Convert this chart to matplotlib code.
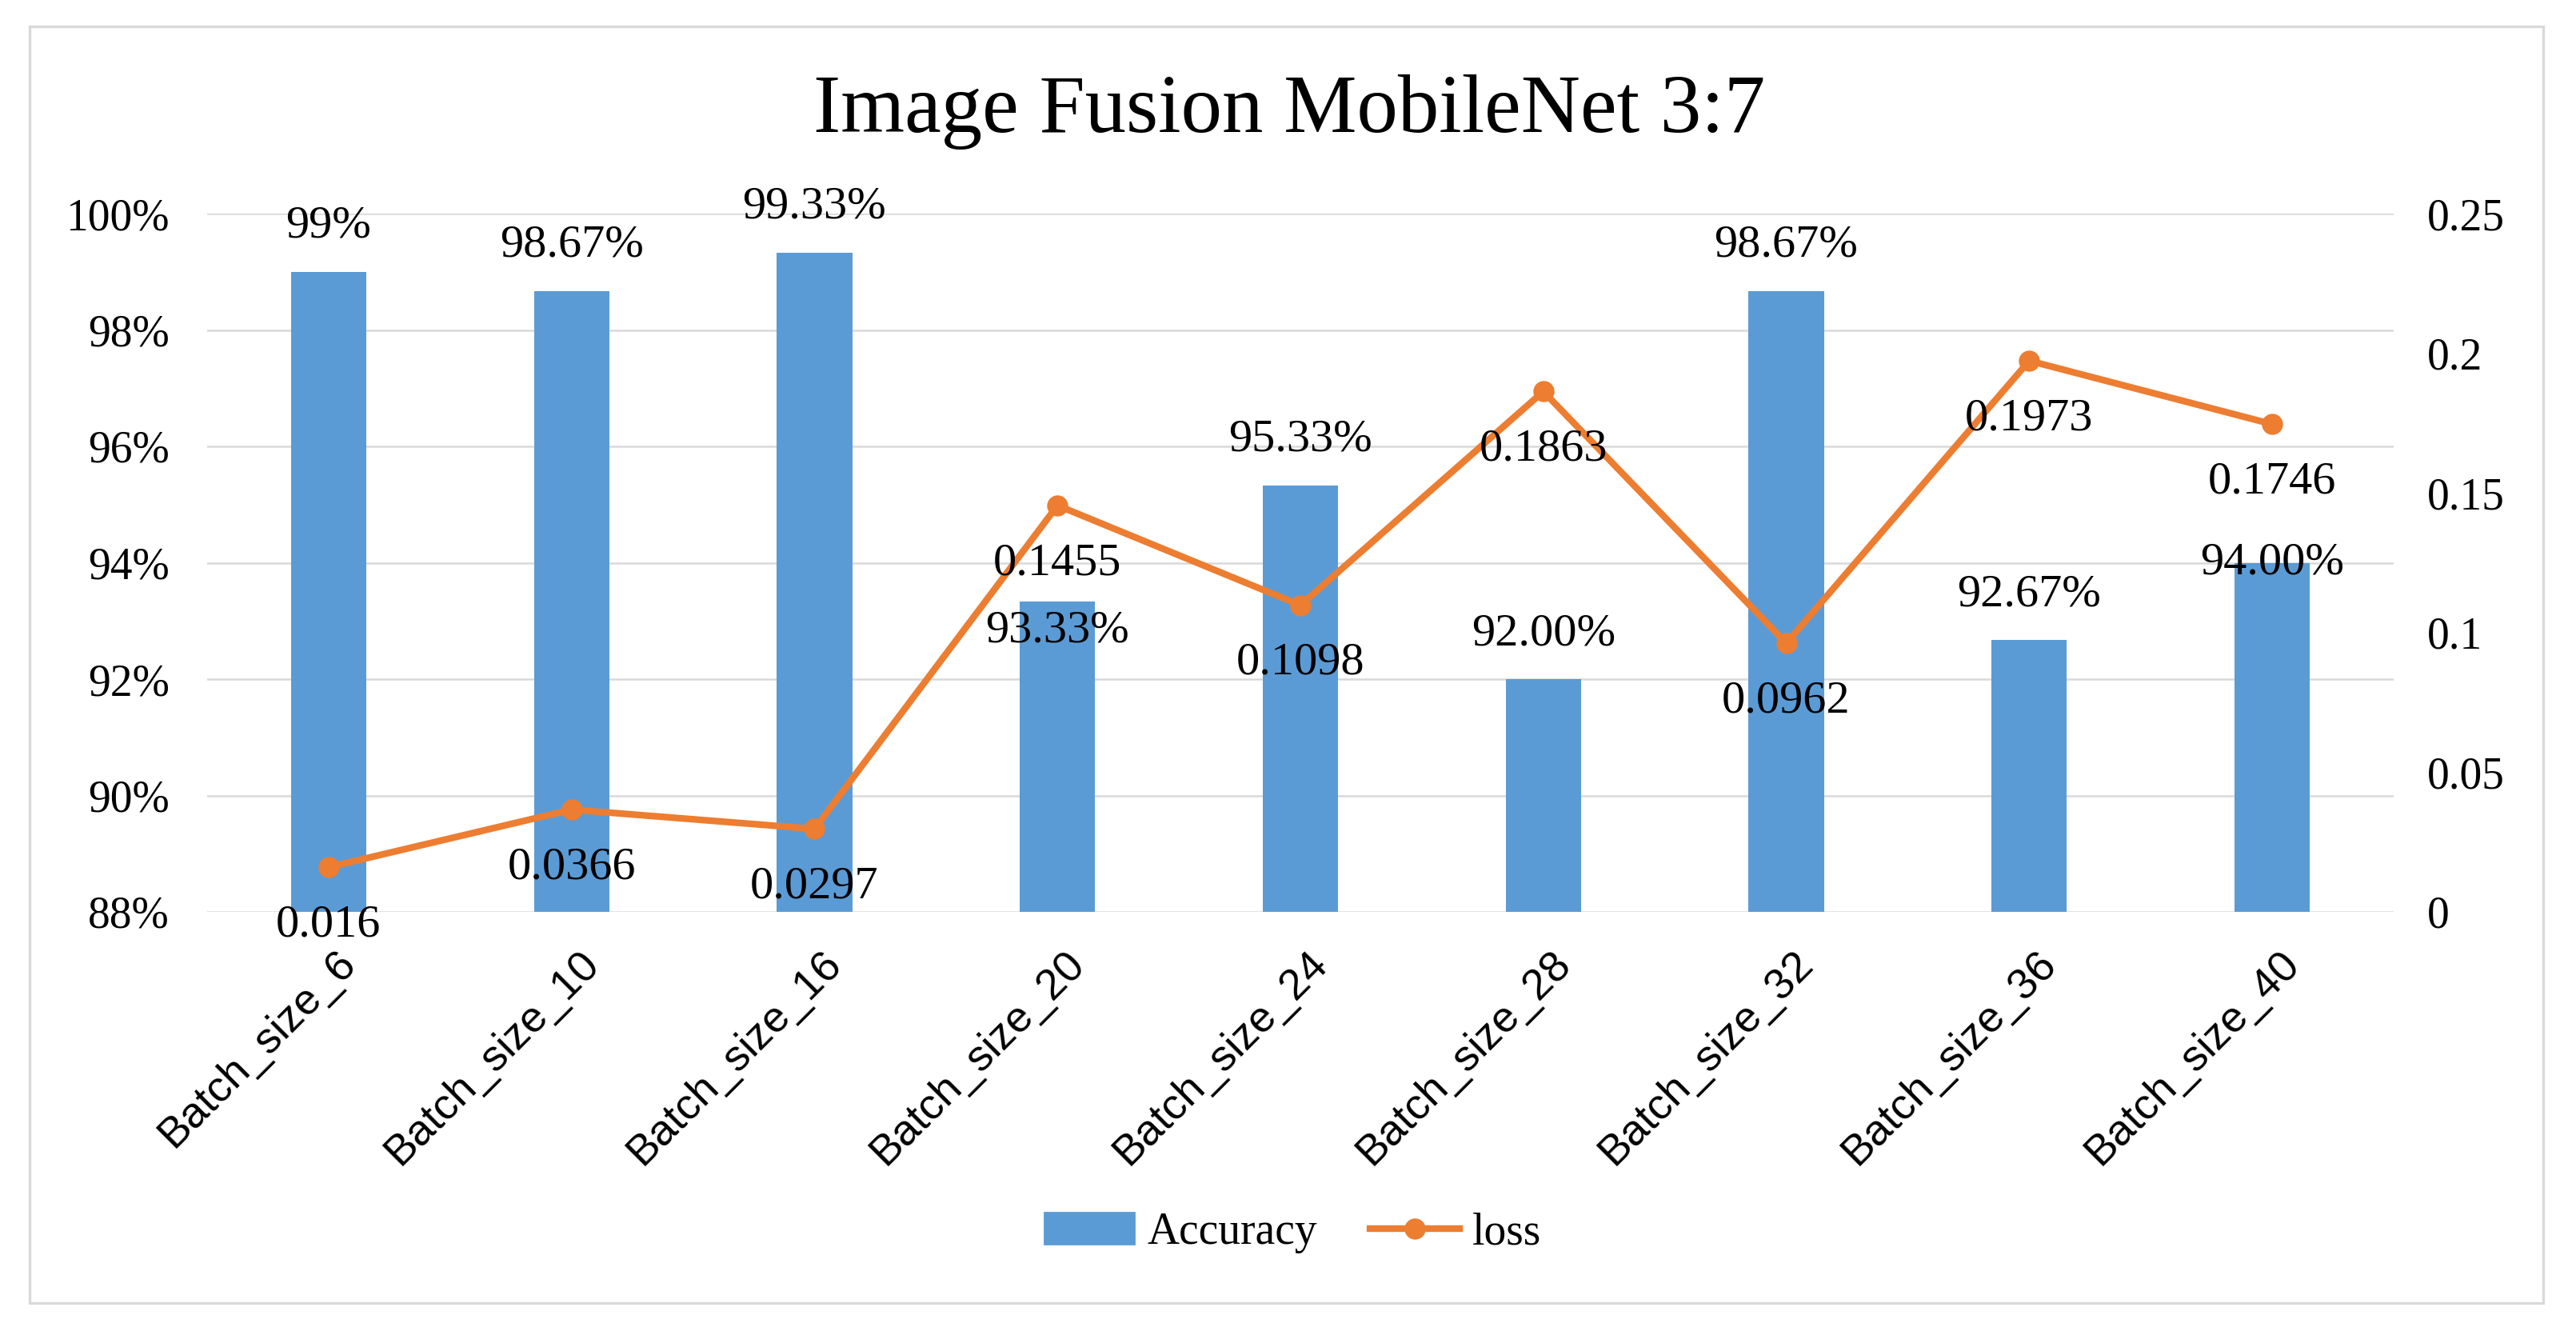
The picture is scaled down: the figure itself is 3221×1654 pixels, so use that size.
import matplotlib
matplotlib.use("Agg")
import matplotlib.pyplot as plt
import matplotlib.transforms as mtransforms
from matplotlib.patches import Rectangle, Patch
from matplotlib.lines import Line2D
from matplotlib.ticker import FuncFormatter, MultipleLocator

# ---- data ----
categories = ["Batch_size_6", "Batch_size_10", "Batch_size_16", "Batch_size_20",
              "Batch_size_24", "Batch_size_28", "Batch_size_32", "Batch_size_36",
              "Batch_size_40"]
accuracy = [0.99, 0.9867, 0.9933, 0.9333, 0.9533, 0.92, 0.9867, 0.9267, 0.94]
accuracy_labels = ["99%", "98.67%", "99.33%", "93.33%", "95.33%", "92.00%",
                   "98.67%", "92.67%", "94.00%"]
loss = [0.016, 0.0366, 0.0297, 0.1455, 0.1098, 0.1863, 0.0962, 0.1973, 0.1746]
loss_labels = ["0.016", "0.0366", "0.0297", "0.1455", "0.1098", "0.1863",
               "0.0962", "0.1973", "0.1746"]
title = "Image Fusion MobileNet 3:7"

# ---- style ----
acc_label_offset_pt = [20.5, 20.5, 20.5, -13, 20.5, 20.5, 20.5, 20.5, 0]
loss_label_offset_pt = -26
BLUE = "#5B9BD5"
ORANGE = "#ED7D31"
GRID = "#D9D9D9"
FONT = ["Liberation Serif", "DejaVu Serif"]
XFONT = ["Liberation Sans", "DejaVu Sans"]
FS = 20

plt.rcParams["font.family"] = FONT

W, H, DPI = 3221, 1654, 200
fig = plt.figure(figsize=(W / DPI, H / DPI), dpi=DPI)
fig.patch.set_facecolor("white")

# outer frame
fig.patches.append(Rectangle((37 / W, 1 - 1629 / H), (3180 - 37) / W, (1629 - 33) / H,
                             transform=fig.transFigure, fill=False,
                             edgecolor=GRID, linewidth=1.2))

left, right = 259 / W, 2993 / W
top, bottom = 1 - 267 / H, 1 - 1140 / H
ax = fig.add_axes([left, bottom, right - left, top - bottom])
ax2 = ax.twinx()

x = list(range(len(categories)))
ax.bar(x, accuracy, width=0.31, color=BLUE, zorder=2)
ax.set_ylim(0.88, 1.0)
ax.set_xlim(-0.5, len(categories) - 0.5)
ax.yaxis.set_major_locator(MultipleLocator(0.02))
ax.yaxis.set_major_formatter(FuncFormatter(lambda v, p: f"{v*100:.0f}%"))
ax.grid(axis="y", color=GRID, linewidth=0.9, zorder=0)
ax.set_axisbelow(True)

LW, MS = 3.0, 8.5
ax2.plot(x, loss, color=ORANGE, linewidth=LW, marker="o", markersize=MS, zorder=3)
ax2.set_ylim(0, 0.25)
ax2.yaxis.set_major_locator(MultipleLocator(0.05))
ax2.yaxis.set_major_formatter(FuncFormatter(lambda v, p: f"{v:g}"))

for a in (ax, ax2):
    for s in a.spines.values():
        s.set_visible(False)
    a.tick_params(length=0)

ax.tick_params(axis="y", labelsize=FS, pad=17)
ax2.tick_params(axis="y", labelsize=FS, pad=15)

ax.set_xticks(x)
ax.set_xticklabels(categories, rotation=45, ha="right", va="top",
                   rotation_mode="anchor", fontsize=19.5, family=XFONT)
ax.tick_params(axis="x", pad=14)
shift = mtransforms.ScaledTranslation(3 / 72, 0, fig.dpi_scale_trans)
for lbl in ax.get_xticklabels():
    lbl.set_transform(lbl.get_transform() + shift)

# data labels
for xi, v, t, off in zip(x, accuracy, accuracy_labels, acc_label_offset_pt):
    ax2.annotate(t, xy=(xi, (v - 0.88) / 0.12 * 0.25), xytext=(0, off),
                 textcoords="offset points", ha="center", va="center",
                 fontsize=FS + 1, zorder=5)
for xi, v, t in zip(x, loss, loss_labels):
    ax2.annotate(t, xy=(xi, v), xytext=(0, loss_label_offset_pt),
                 textcoords="offset points", ha="center", va="center",
                 fontsize=FS + 1, zorder=5)

fig.text(0.5005, 1 - 140 / H, title, ha="center", va="center", fontsize=37)

handles = [Patch(color=BLUE, label="Accuracy"),
           Line2D([0], [0], color=ORANGE, linewidth=LW, marker="o", markersize=MS,
                  label="loss")]
fig.legend(handles=handles, loc="center", bbox_to_anchor=(0.502, 1 - 1541 / H),
           ncol=2, frameon=False, fontsize=FS, handlelength=2.0,
           handletextpad=0.3, columnspacing=1.2)

fig.savefig("out.png", dpi=DPI, facecolor="white")
